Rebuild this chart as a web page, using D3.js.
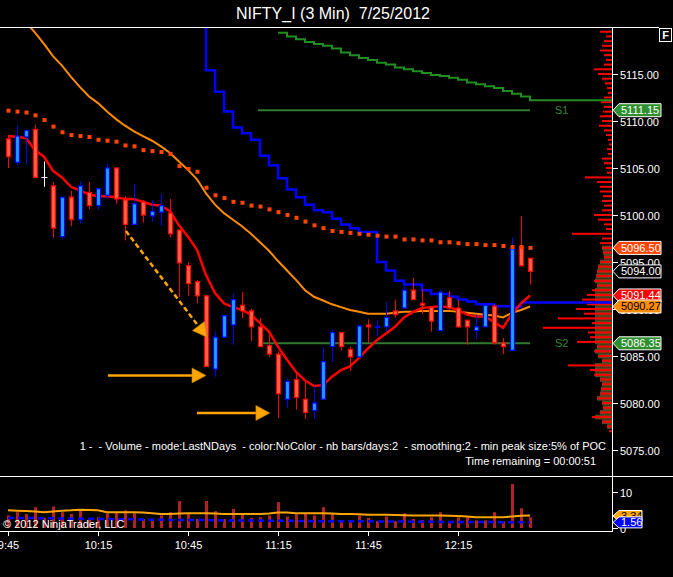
<!DOCTYPE html>
<html>
<head>
<meta charset="utf-8">
<script src="https://cdn.jsdelivr.net/npm/d3@7/dist/d3.min.js"></script>
<style>
html,body{margin:0;padding:0;background:#000;overflow:hidden}
svg{display:block}
text{font-family:"Liberation Sans",Arial,Helvetica,sans-serif;white-space:pre}
</style>
</head>
<body>
<svg id="chart" width="673" height="577"></svg>
<script>
// ================= DATA =================
const title = "NIFTY_I (3 Min)  7/25/2012";
const timeLabels = ["9:45","10:15","10:45","11:15","11:45","12:15"];
const timeLabelBars = [0,10,20,30,40,50];
const priceTicks = [5075,5080,5085,5090,5095,5100,5105,5110,5115];
const volumeTicks = [0,10];

const opens = [5108.1,5105.6,5108.3,5109.1,5104.0,5103.1,5097.7,5101.9,5099.5,5102.4,
5101.0,5102.1,5105.0,5101.6,5099.0,5101.4,5099.9,5100.3,5100.2,5098.4,
5094.6,5092.9,5091.4,5083.6,5087.0,5088.3,5090.4,5089.8,5088.1,5086.1,
5085.2,5080.4,5082.5,5080.4,5079.2,5080.4,5086.0,5087.5,5085.7,5084.9,
5088.3,5088.05,5088.1,5089.8,5090.1,5092.0,5090.6,5090.2,5087.7,5091.2,
5090.1,5088.8,5087.7,5088.1,5090.3,5086.4,5085.6,5096.6,5095.4];
const highs = [5108.3,5109.5,5109.0,5109.6,5105.7,5103.5,5101.9,5102.6,5103.6,5103.5,
5102.8,5105.4,5105.0,5102.0,5103.3,5101.6,5101.6,5102.2,5101.7,5098.4,
5095.0,5093.1,5091.4,5087.6,5089.3,5091.6,5091.8,5090.0,5089.0,5087.4,
5085.5,5082.6,5083.3,5082.3,5081.8,5085.9,5087.8,5087.5,5086.0,5088.2,
5088.9,5088.8,5090.7,5091.0,5092.6,5093.3,5092.1,5090.3,5092.0,5091.9,
5091.0,5088.8,5089.4,5090.7,5090.5,5086.9,5097.6,5099.9,5095.4];
const lows = [5105.0,5105.3,5105.4,5104.0,5103.0,5097.6,5097.5,5098.8,5099.1,5100.6,
5100.6,5101.7,5101.2,5097.3,5099.0,5099.2,5099.3,5098.9,5097.6,5091.3,
5091.4,5090.6,5083.9,5082.8,5087.0,5086.2,5089.0,5086.6,5086.0,5084.9,
5078.4,5079.5,5079.3,5078.3,5078.3,5080.4,5084.4,5085.6,5083.4,5084.9,
5086.4,5087.1,5087.6,5089.1,5090.1,5091.0,5089.5,5087.6,5087.7,5089.9,
5088.0,5086.2,5086.8,5088.1,5086.2,5085.2,5085.6,5094.6,5092.6];
const closes = [5106.2,5108.4,5109.0,5104.0,5104.0,5098.6,5101.9,5099.5,5103.1,5101.0,
5102.8,5105.0,5101.7,5099.0,5101.2,5100.0,5100.4,5101.0,5098.0,5094.9,
5092.7,5091.4,5083.9,5087.0,5089.3,5091.0,5089.8,5088.1,5086.0,5085.2,
5081.0,5082.3,5080.6,5079.0,5080.0,5084.4,5087.5,5086.0,5084.9,5088.2,
5088.1,5088.15,5089.1,5089.4,5092.0,5091.0,5090.4,5088.7,5091.8,5090.1,
5088.1,5088.1,5088.1,5090.4,5086.4,5086.0,5096.4,5094.6,5094.0];

// red (fast) average
const fastMA = [5108.4,5108.3,5108.2,5106.9,5106.2,5104.7,5104.0,5103.0,5102.6,5102.2,
5102.0,5102.0,5101.9,5101.7,5101.7,5101.4,5101.1,5101.0,5100.4,5098.9,
5097.7,5096.3,5093.6,5091.7,5090.6,5090.2,5089.9,5089.4,5088.5,5087.6,
5086.0,5084.6,5083.3,5082.4,5081.8,5081.9,5082.8,5083.5,5083.9,5084.8,
5085.8,5086.7,5087.4,5088.1,5089.1,5089.7,5090.1,5090.2,5090.3,5090.2,
5089.9,5089.4,5089.2,5089.2,5088.6,5088.0,5089.5,5090.6,5091.44];
// orange (slow) average
const slowMA = [5122.8,5121.6,5120.5,5119.4,5118.2,5116.9,5115.9,5114.7,5113.6,5112.6,
5111.9,5111.0,5110.2,5109.5,5108.9,5108.4,5107.9,5107.3,5106.6,5105.7,
5104.8,5103.8,5102.3,5101.1,5100.2,5099.5,5098.8,5098.0,5097.1,5096.2,
5095.1,5094.1,5093.1,5092.0,5091.3,5090.9,5090.5,5090.2,5089.9,5089.7,
5089.5,5089.5,5089.5,5089.6,5089.7,5089.7,5089.8,5089.8,5089.8,5089.8,
5089.7,5089.6,5089.5,5089.4,5089.3,5089.1,5089.6,5089.9,5090.27];
// orange-red square dots
const dotLevels = [5111.1,5111.0,5110.9,5110.6,5110.1,5109.4,5108.8,5108.5,5108.4,5108.3,
5108.0,5107.9,5107.8,5107.4,5107.3,5106.9,5106.8,5106.7,5106.5,5105.2,
5104.9,5104.6,5102.9,5102.1,5101.8,5101.4,5101.3,5101.0,5100.9,5100.6,
5100.3,5100.0,5099.7,5099.3,5098.9,5098.6,5098.3,5098.2,5098.1,5098.0,
5097.9,5097.8,5097.7,5097.7,5097.4,5097.4,5097.3,5097.3,5097.1,5097.1,
5097.0,5096.9,5096.9,5096.8,5096.8,5096.7,5096.6,5096.6,5096.5];
// blue stepped stop line (starts at bar 21)
const stopStart = 21;
const stopLine = [5125,5115.4,5113.1,5111.0,5109.3,5108.7,5108.0,5106.3,5105.3,5103.9,
5102.7,5101.9,5101.1,5100.5,5100.3,5099.6,5099.0,5098.6,5098.2,5098.2,
5095.0,5094.1,5093.0,5092.6,5092.6,5092.0,5091.6,5091.6,5091.3,5091.0,
5090.8,5090.5,5090.5,5090.3,5090.3,5090.2,5090.7,5090.7];
// green stepped line (starts at bar 30)
const greenStart = 30;
const greenLine = [5119.4,5119.0,5118.7,5118.4,5118.2,5118.0,5117.7,5117.3,5117.0,5116.7,
5116.5,5116.2,5116.0,5115.7,5115.5,5115.3,5115.1,5114.9,5114.8,5114.6,
5114.4,5114.1,5113.9,5113.7,5113.5,5113.2,5112.9,5112.6,5112.2];

const s1 = 5111.15, s2 = 5086.35, levelStartBar = 28;

const volumes = [3.5,4.4,3.9,5.8,2.8,6.0,4.4,3.9,4.9,2.8,
3.0,4.1,4.4,4.9,4.4,2.5,2.2,3.5,4.4,7.5,
3.9,2.5,7.5,4.7,2.5,5.3,3.9,2.8,3.0,3.5,
7.2,3.2,3.9,3.9,3.5,5.8,3.9,2.2,2.2,3.5,
2.8,1.9,3.2,1.9,4.1,2.5,2.2,3.0,4.4,1.9,
3.0,3.0,2.1,2.1,4.4,1.9,12.2,5.5,3.0];
const volMA = [4.9,4.8,4.7,4.6,4.4,4.6,4.8,4.9,5.1,5.0,
4.9,4.4,4.4,4.4,4.4,4.3,4.1,3.9,3.9,4.0,
4.1,4.1,4.1,4.0,3.9,3.9,3.9,3.9,3.9,4.0,
4.3,4.3,4.1,4.1,4.1,4.1,4.0,3.9,3.9,3.8,
3.7,3.7,3.7,3.6,3.55,3.5,3.5,3.5,3.5,3.4,
3.3,3.2,3.0,3.0,3.0,3.0,3.2,3.4,3.5];
const volAvg = [2.8,2.8,2.8,2.75,2.7,2.7,2.65,2.6,2.6,2.55,
2.5,2.5,2.45,2.4,2.4,2.35,2.3,2.3,2.25,2.2,
2.2,2.2,2.2,2.15,2.1,2.1,2.1,2.05,2.05,2.0,
2.0,2.0,1.95,1.95,1.9,1.9,1.9,1.9,1.85,1.85,
1.85,1.8,1.8,1.8,1.8,1.75,1.75,1.75,1.7,1.7,
1.7,1.7,1.65,1.65,1.65,1.6,1.6,1.6,1.56];

// volume profile (top price, step, volumes top->bottom)
const profileTop = 5119.5, profileStep = 0.5;
const profileVolumes = [12,6,8,10,12,8,6,8,18,14,
10,7,5,4,8,11,8,9,12,10,
13,8,6,4,3,5,4,10,8,6,
5,27,15,12,12,9,10,8,10,18,
14,8,6,40,10,12,10,9,8,12,
14,15,16,18,15,20,25,30,25,36,
28,54,20,69,24,22,35,15,18,14,
10,44,22,18,12,10,11,12,15,10,
9,12,20,10,5,3];
const valueAreaLow = 5077.5, valueAreaHigh = 5096.5;

const priceFlags = [5111.15, 5096.50, 5094.00, 5091.44, 5090.27, 5086.35];
const priceFlagText = ["5111.15","5096.50","5094.00","5091.44","5090.27","5086.35"];
const volumeFlags = [3.34, 1.56];
const volumeFlagText = ["3.34","1.56"];

// annotation arrows in (bar index, price)
const arrowsSolid = [
  {b0: 11.1, p0: 5082.93, b1: 22.0, p1: 5082.93},
  {b0: 21.0, p0: 5078.94, b1: 29.1, p1: 5078.94}
];
const arrowDashed = {b0: 13.1, p0: 5098.3, b1: 22.1, p1: 5087.0};

const infoLine1 = "1 -  - Volume - mode:LastNDays  - color:NoColor - nb bars/days:2  - smoothing:2 - min peak size:5% of POC";
const infoLine2 = "Time remaining = 00:00:51";
const copyright = "\u00A9 2012 NinjaTrader, LLC";

// ================= LAYOUT / SCALES =================
const W = 673, H = 577;
const axisX = 612, mainTop = 27, mainBottom = 476, volBottom = 531;
const nBars = closes.length;
const x = d3.scaleLinear().domain([0, 58]).range([8, 530]);
const y = d3.scaleLinear().domain([5075, 5115]).range([450, 74]);
const yv = d3.scaleLinear().domain([0, 10]).range([528, 492]);
const profX = d3.scaleLinear().domain([0, 100]).range([0, 100]);

const svg = d3.select("#chart");
svg.append("rect").attr("width", W).attr("height", H).attr("fill", "#000");

const defs = svg.append("defs");
defs.append("clipPath").attr("id", "mainClip").append("rect")
  .attr("x", 0).attr("y", mainTop + 1).attr("width", axisX).attr("height", mainBottom - mainTop - 1);
defs.append("clipPath").attr("id", "volClip").append("rect")
  .attr("x", 0).attr("y", mainBottom + 1).attr("width", axisX).attr("height", volBottom - mainBottom - 1);

// title
svg.append("text").attr("x", 333).attr("y", 19).attr("text-anchor", "middle")
  .attr("fill", "#fff").attr("font-size", 16).text(title);

const main = svg.append("g").attr("clip-path", "url(#mainClip)");

// ---- volume profile ----
const levels = profileVolumes.map((v, i) => ({p: profileTop - i * profileStep, v}));
const rowH = Math.abs(y(5075 + profileStep) - y(5075));
main.append("g").selectAll("rect").data(levels.filter(d => d.p >= valueAreaLow && d.p <= valueAreaHigh))
  .enter().append("rect")
  .attr("x", d => axisX - Math.min(profX(d.v), 17))
  .attr("y", d => y(d.p) - rowH / 2)
  .attr("width", d => Math.min(profX(d.v), 17))
  .attr("height", rowH)
  .attr("fill", "#5a4820");
main.append("g").selectAll("rect").data(levels).enter().append("rect")
  .attr("x", d => axisX - profX(d.v))
  .attr("y", d => y(d.p) - 1)
  .attr("width", d => profX(d.v))
  .attr("height", 2)
  .attr("fill", "#ff0000");

// ---- S1 / S2 levels ----
[[s1, "S1"], [s2, "S2"]].forEach(([lv, name]) => {
  main.append("line").attr("x1", x(levelStartBar) - 2).attr("x2", x(nBars - 1))
    .attr("y1", y(lv)).attr("y2", y(lv)).attr("stroke", "#2f7a2f").attr("stroke-width", 2);
  main.append("text").attr("x", 555).attr("y", y(lv) + 4).attr("fill", "#2f8a2f")
    .attr("font-size", 11).text(name);
});

// ---- green stepped line ----
const greenPts = greenLine.map((v, i) => ({px: x(greenStart + i), v}));
greenPts.push({px: axisX, v: greenLine[greenLine.length - 1]});
main.append("path").attr("d", d3.line().x(d => d.px).y(d => y(d.v)).curve(d3.curveStepAfter)(greenPts))
  .attr("fill", "none").attr("stroke", "#1f8f1f").attr("stroke-width", 2);

// ---- blue stepped line ----
const stopPts = stopLine.map((v, i) => ({px: x(stopStart + i), v}));
stopPts.push({px: axisX, v: stopLine[stopLine.length - 1]});
main.append("path").attr("d", d3.line().x(d => d.px).y(d => y(d.v)).curve(d3.curveStepAfter)(stopPts))
  .attr("fill", "none").attr("stroke", "#0000ff").attr("stroke-width", 2.5);

// ---- moving averages ----
main.append("path").attr("d", d3.line().x((d, i) => x(i)).y(d => y(d))(slowMA))
  .attr("fill", "none").attr("stroke", "#ff8c00").attr("stroke-width", 2);
main.append("path").attr("d", d3.line().x((d, i) => x(i)).y(d => y(d))(fastMA))
  .attr("fill", "none").attr("stroke", "#ff0000").attr("stroke-width", 2.5);

// ---- candles ----
const bars = closes.map((c, i) => ({i, o: opens[i], h: highs[i], l: lows[i], c}));
const cg = main.append("g");
bars.forEach(d => {
  const cx = Math.round(x(d.i)) + 0.5;
  if (d.o === d.c) {
    cg.append("line").attr("x1", cx).attr("x2", cx).attr("y1", y(d.h)).attr("y2", y(d.l))
      .attr("stroke", "#fff").attr("stroke-width", 1);
    cg.append("line").attr("x1", cx - 3).attr("x2", cx + 3).attr("y1", Math.round(y(d.o)) + 0.5)
      .attr("y2", Math.round(y(d.o)) + 0.5).attr("stroke", "#fff").attr("stroke-width", 1);
    return;
  }
  const up = d.c > d.o;
  const stroke = up ? "#0000ff" : "#ff0000";
  const fill = up ? "#1ea0ff" : "#ff6347";
  cg.append("line").attr("x1", cx).attr("x2", cx).attr("y1", y(d.h)).attr("y2", y(d.l))
    .attr("stroke", stroke).attr("stroke-width", 1);
  const top = y(Math.max(d.o, d.c)), bot = y(Math.min(d.o, d.c));
  cg.append("rect").attr("x", cx - 2).attr("y", top).attr("width", 4)
    .attr("height", Math.max(1, bot - top)).attr("fill", fill)
    .attr("stroke", stroke).attr("stroke-width", 1.2);
});

// ---- dots ----
main.append("g").selectAll("rect").data(dotLevels).enter().append("rect")
  .attr("x", (d, i) => x(i) - 1.5).attr("y", d => y(d) - 2)
  .attr("width", 4).attr("height", 4).attr("fill", "#ff4500");

// ---- arrows ----
function arrow(g, a, dashed) {
  const X0 = x(a.b0), Y0 = y(a.p0), X1 = x(a.b1), Y1 = y(a.p1);
  const len = Math.hypot(X1 - X0, Y1 - Y0), ux = (X1 - X0) / len, uy = (Y1 - Y0) / len;
  const hl = 14, hw = 7.5;
  const bx = X1 - ux * hl, by = Y1 - uy * hl;
  g.append("line").attr("x1", X0).attr("y1", Y0).attr("x2", bx).attr("y2", by)
    .attr("stroke", "#ffa500").attr("stroke-width", 2.5)
    .attr("stroke-dasharray", dashed ? "5,3" : null);
  g.append("path").attr("d", `M${X1},${Y1}L${bx - uy * hw},${by + ux * hw}L${bx + uy * hw},${by - ux * hw}Z`)
    .attr("fill", "#ffa500").attr("stroke", "#c47f00").attr("stroke-width", 0.6);
}
arrowsSolid.forEach(a => arrow(main, a, false));
arrow(main, arrowDashed, true);

// ---- info texts ----
svg.append("text").attr("x", 606).attr("y", 450).attr("text-anchor", "end")
  .attr("fill", "#fff").attr("font-size", 11).text(infoLine1);
svg.append("text").attr("x", 596).attr("y", 465).attr("text-anchor", "end")
  .attr("fill", "#fff").attr("font-size", 11).text(infoLine2);

// ---- volume panel ----
const vol = svg.append("g").attr("clip-path", "url(#volClip)");
vol.selectAll("rect").data(volumes).enter().append("rect")
  .attr("x", (d, i) => Math.round(x(i)) - 1).attr("y", d => yv(d))
  .attr("width", 3).attr("height", d => yv(0) - yv(d)).attr("fill", "#b22222");
vol.append("path").attr("d", d3.line().x((d, i) => x(i)).y(d => yv(d))(volMA))
  .attr("fill", "none").attr("stroke", "#ffa500").attr("stroke-width", 2);
vol.append("path").attr("d", d3.line().x((d, i) => x(i)).y(d => yv(d))(volAvg))
  .attr("fill", "none").attr("stroke", "#0000ff").attr("stroke-width", 2.5).attr("stroke-dasharray", "6,4");
svg.append("text").attr("x", 3).attr("y", 528).attr("fill", "#fff").attr("font-size", 11).text(copyright);

// ---- frame ----
const frame = svg.append("g").attr("stroke", "#fff").attr("stroke-width", 1);
frame.append("line").attr("x1", 0).attr("x2", 659).attr("y1", mainTop + 0.5).attr("y2", mainTop + 0.5);
frame.append("line").attr("x1", 0).attr("x2", W).attr("y1", mainBottom + 0.5).attr("y2", mainBottom + 0.5);
frame.append("line").attr("x1", 0).attr("x2", axisX).attr("y1", volBottom + 0.5).attr("y2", volBottom + 0.5);
frame.append("line").attr("x1", axisX + 0.5).attr("x2", axisX + 0.5).attr("y1", mainTop).attr("y2", volBottom + 1);

// F box
svg.append("rect").attr("x", 659.5).attr("y", 28.5).attr("width", 12).attr("height", 13)
  .attr("fill", "#000").attr("stroke", "#fff");
svg.append("text").attr("x", 665.5).attr("y", 39).attr("text-anchor", "middle").attr("fill", "#fff")
  .attr("font-size", 11).attr("font-weight", "bold").text("F");

// ---- price axis ----
const pa = svg.append("g");
priceTicks.forEach(t => {
  const yy = Math.round(y(t)) + 0.5;
  pa.append("line").attr("x1", axisX).attr("x2", axisX + 6).attr("y1", yy).attr("y2", yy).attr("stroke", "#fff");
  pa.append("text").attr("x", axisX + 8).attr("y", yy + 4).attr("fill", "#fff").attr("font-size", 11).text(t.toFixed(2));
});

// ---- volume axis ----
volumeTicks.forEach(t => {
  const yy = Math.round(yv(t)) + 0.5;
  pa.append("line").attr("x1", axisX).attr("x2", axisX + 6).attr("y1", yy).attr("y2", yy).attr("stroke", "#fff");
  pa.append("text").attr("x", axisX + 8).attr("y", yy + 4).attr("fill", "#fff").attr("font-size", 11).text(t);
});

// ---- flags ----
const flagStyles = [
  {bg: "#2f8f2f", fg: "#fff"},
  {bg: "#ff4500", fg: "#fff"},
  {bg: "#000", fg: "#fff"},
  {bg: "#ff0000", fg: "#fff"},
  {bg: "#ff8c00", fg: "#000"},
  {bg: "#2f8f2f", fg: "#fff"}
];
function flag(yc, txt, st, right, hh) {
  const g = svg.append("g");
  g.append("path").attr("d", `M${axisX + 1},${yc}L${axisX + 7},${yc - hh}L${right},${yc - hh}L${right},${yc + hh}L${axisX + 7},${yc + hh}Z`)
    .attr("fill", st.bg).attr("stroke", "#fff").attr("stroke-width", 1);
  g.append("text").attr("x", axisX + 9).attr("y", yc + 4).attr("fill", st.fg).attr("font-size", 11).text(txt);
}
priceFlags.forEach((v, i) => flag(y(v), priceFlagText[i], flagStyles[i], 661, 6.5));
const volFlagStyles = [{bg: "#ffa500", fg: "#000"}, {bg: "#0000ff", fg: "#fff"}];
volumeFlags.forEach((v, i) => flag(yv(v), volumeFlagText[i], volFlagStyles[i], 642, 5.5));

// ---- time axis ----
timeLabelBars.forEach((b, i) => {
  const xx = Math.round(x(b)) + 0.5;
  svg.append("line").attr("x1", xx).attr("x2", xx).attr("y1", volBottom).attr("y2", volBottom + 5).attr("stroke", "#fff");
  svg.append("text").attr("x", xx).attr("y", 549).attr("text-anchor", "middle").attr("fill", "#fff")
    .attr("font-size", 11).text(timeLabels[i]);
});
</script>
</body>
</html>
